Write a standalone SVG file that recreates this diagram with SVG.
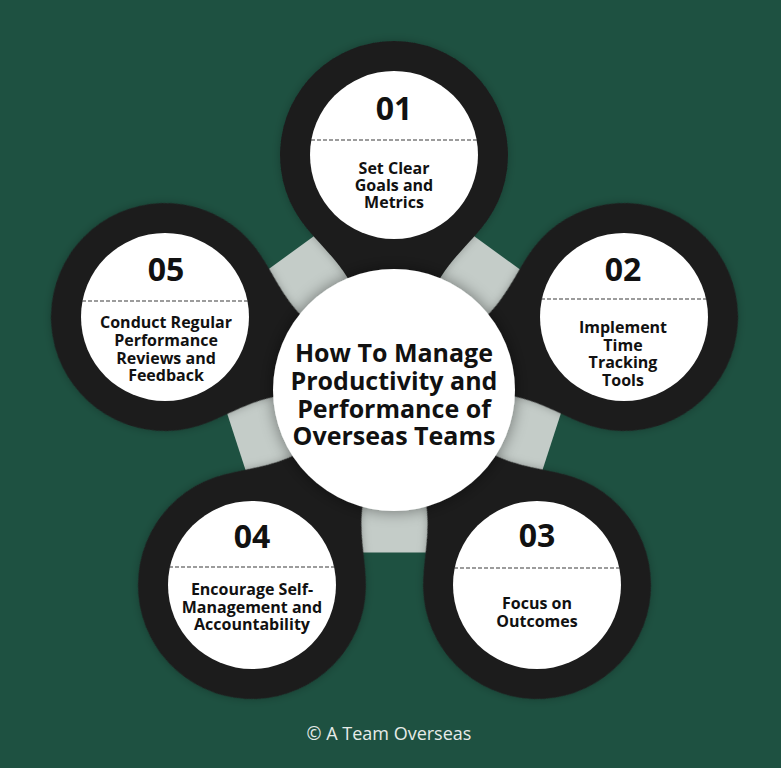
<svg xmlns="http://www.w3.org/2000/svg" width="781" height="768" viewBox="0 0 781 768">
  <style>
    .ring { fill: #1d1f1e; }
    .inner { fill: #ffffff; }
    .dash { stroke: #3a3a3a; stroke-width: 1.2; stroke-dasharray: 4 2; fill: none; }
    .num { font-family: "Open Sans", "Noto Sans", sans-serif; font-weight: 700; font-size: 32px; fill: #111; text-anchor: middle; }
    .lbl { font-family: "Open Sans", "Noto Sans", sans-serif; font-weight: 700; font-size: 16px; fill: #111; text-anchor: middle; }
    .title { font-family: "Open Sans", "Noto Sans", sans-serif; font-weight: 700; font-size: 25px; fill: #111; text-anchor: middle; }
    .foot { font-family: "Open Sans", "Noto Sans", sans-serif; font-size: 18px; fill: #e6ebe8; text-anchor: middle; }
  </style>
  <defs>
    <path id="drop" d="M -87.3,73.3 A 114 114 0 1 1 87.3,73.3 C 62,104 30,125 22,200 L -22,200 C -30,125 -62,104 -87.3,73.3 Z"/>
    <filter id="shadow" x="-30%" y="-30%" width="160%" height="160%">
      <feDropShadow dx="0" dy="0" stdDeviation="8" flood-color="#000" flood-opacity="0.45"/>
    </filter>
    <filter id="shadow2" x="-30%" y="-30%" width="160%" height="160%">
      <feDropShadow dx="0" dy="0" stdDeviation="4" flood-color="#000" flood-opacity="0.25"/>
    </filter>
  </defs>

  <rect x="0" y="0" width="781" height="768" fill="#1e5141"/>

  <g id="connectors">
    <polygon points="394,178 590.9,321 515.7,552.5 272.3,552.5 197.1,321" fill="#c4ccc8"/>
  </g>

  <g id="node-01">
    <use href="#drop" class="ring" filter="url(#shadow2)" transform="translate(394,155) rotate(0)"/>
    <circle class="inner" cx="394" cy="155" r="84"/>
    <line class="dash" x1="311" y1="140" x2="477" y2="140"/>
    <text class="num" x="394" y="120">01</text>
    <text class="lbl" x="394" y="174">Set Clear</text>
    <text class="lbl" x="394" y="191">Goals and</text>
    <text class="lbl" x="394" y="208">Metrics</text>
  </g>

  <g id="node-02">
    <use href="#drop" class="ring" filter="url(#shadow2)" transform="translate(624,317) rotate(72.6)"/>
    <circle class="inner" cx="624" cy="317" r="84"/>
    <line class="dash" x1="541" y1="299" x2="707" y2="299"/>
    <text class="num" x="623" y="281">02</text>
    <text class="lbl" x="623" y="333">Implement</text>
    <text class="lbl" x="623" y="351">Time</text>
    <text class="lbl" x="623" y="368">Tracking</text>
    <text class="lbl" x="623" y="386">Tools</text>
  </g>

  <g id="node-03">
    <use href="#drop" class="ring" filter="url(#shadow2)" transform="translate(537,585) rotate(143.8)"/>
    <circle class="inner" cx="537" cy="585" r="84"/>
    <line class="dash" x1="454" y1="568" x2="620" y2="568"/>
    <text class="num" x="537" y="547">03</text>
    <text class="lbl" x="537" y="609">Focus on</text>
    <text class="lbl" x="537" y="627">Outcomes</text>
  </g>

  <g id="node-04">
    <use href="#drop" class="ring" filter="url(#shadow2)" transform="translate(252,585) rotate(-144)"/>
    <circle class="inner" cx="252" cy="585" r="84"/>
    <line class="dash" x1="169" y1="567" x2="335" y2="567"/>
    <text class="num" x="252" y="548">04</text>
    <text class="lbl" x="252" y="595">Encourage Self-</text>
    <text class="lbl" x="252" y="613">Management and</text>
    <text class="lbl" x="252" y="630">Accountability</text>
  </g>

  <g id="node-05">
    <use href="#drop" class="ring" filter="url(#shadow2)" transform="translate(165,317) rotate(-72.5)"/>
    <circle class="inner" cx="165" cy="317" r="84"/>
    <line class="dash" x1="82" y1="301" x2="248" y2="301"/>
    <text class="num" x="166" y="281">05</text>
    <text class="lbl" x="166" y="328">Conduct Regular</text>
    <text class="lbl" x="166" y="346">Performance</text>
    <text class="lbl" x="166" y="364">Reviews and</text>
    <text class="lbl" x="166" y="381">Feedback</text>
  </g>

  <g id="center">
    <circle cx="394" cy="390" r="121" fill="#ffffff" filter="url(#shadow)"/>
    <text class="title" x="394" y="362">How To Manage</text>
    <text class="title" x="394" y="390">Productivity and</text>
    <text class="title" x="394" y="418">Performance of</text>
    <text class="title" x="394" y="445">Overseas Teams</text>
  </g>

  <text class="foot" x="389" y="740">© A Team Overseas</text>
</svg>
